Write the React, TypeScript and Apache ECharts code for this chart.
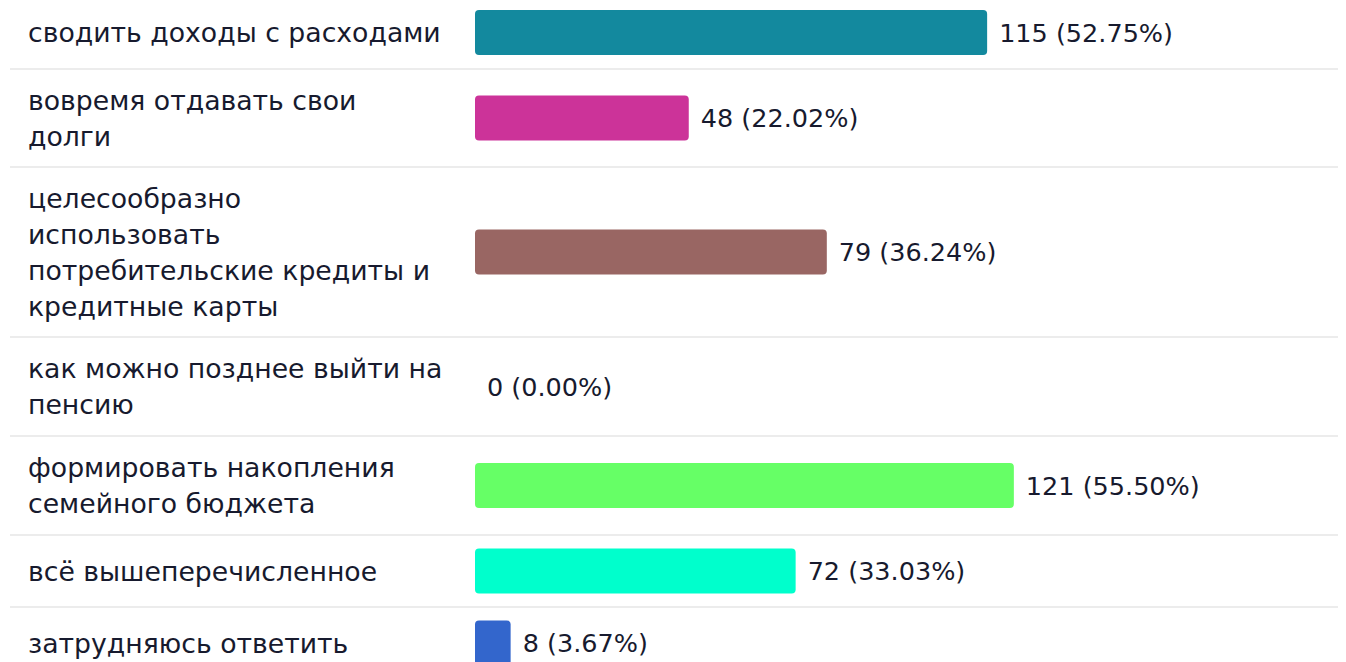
import React, { useEffect, useRef } from "react";
import * as echarts from "echarts";

const categories = [
  "сводить доходы с расходами",
  "вовремя отдавать свои\nдолги",
  "целесообразно\nиспользовать\nпотребительские кредиты и\nкредитные карты",
  "как можно позднее выйти на\nпенсию",
  "формировать накопления\nсемейного бюджета",
  "всё вышеперечисленное",
  "затрудняюсь ответить",
];
const values = [115, 48, 79, 0, 121, 72, 8];
const respondents = 218;
const colors = ["#13899E", "#CC3399", "#996663", "#999999", "#66FF66", "#00FFCC", "#3366CC"];

// layout: row boundaries (px)
const rowBounds = [-4, 69, 167, 337, 436, 535, 607, 679];

const TEXT = "#171a2e";
const FONT = "DejaVu Sans";

export default function App() {
  const ref = useRef<HTMLDivElement>(null);
  useEffect(() => {
    document.body.style.margin = "0";
    const chart = echarts.init(ref.current!, null, { renderer: "svg" });
    const grid: any[] = [];
    const xAxis: any[] = [];
    const yAxis: any[] = [];
    const series: any[] = [];
    categories.forEach((c, i) => {
      grid.push({
        left: 475,
        width: 668,
        top: rowBounds[i],
        height: rowBounds[i + 1] - rowBounds[i],
        outerBoundsMode: "none",
      });
      xAxis.push({ type: "value", gridIndex: i, min: 0, max: 150, show: false });
      yAxis.push({
        type: "category",
        gridIndex: i,
        data: [c],
        axisLine: { show: false },
        axisTick: { show: false },
        axisLabel: {
          align: "left",
          margin: 447,
          fontSize: 26.7,
          lineHeight: 36,
          color: TEXT,
          fontFamily: FONT,
        },
      });
      series.push({
        type: "bar",
        xAxisIndex: i,
        yAxisIndex: i,
        data: [values[i]],
        barWidth: 45,
        itemStyle: { color: colors[i], borderRadius: 4 },
        label: {
          show: true,
          position: "right",
          distance: 12,
          fontSize: 25.5,
          color: TEXT,
          fontFamily: FONT,
          formatter: (p: any) =>
            `${p.value} (${((p.value / respondents) * 100).toFixed(2)}%)`,
        },
      });
    });
    const graphic = rowBounds.slice(1, -1).map((y) => ({
      type: "line",
      shape: { x1: 10, y1: y, x2: 1338, y2: y },
      style: { stroke: "#e6e6e6", lineWidth: 1.5 },
      silent: true,
    }));
    chart.setOption({
      animation: false,
      backgroundColor: "#ffffff",
      grid,
      xAxis,
      yAxis,
      series,
      graphic,
    });
    return () => chart.dispose();
  }, []);
  return <div ref={ref} style={{ width: 1346, height: 662 }} />;
}
